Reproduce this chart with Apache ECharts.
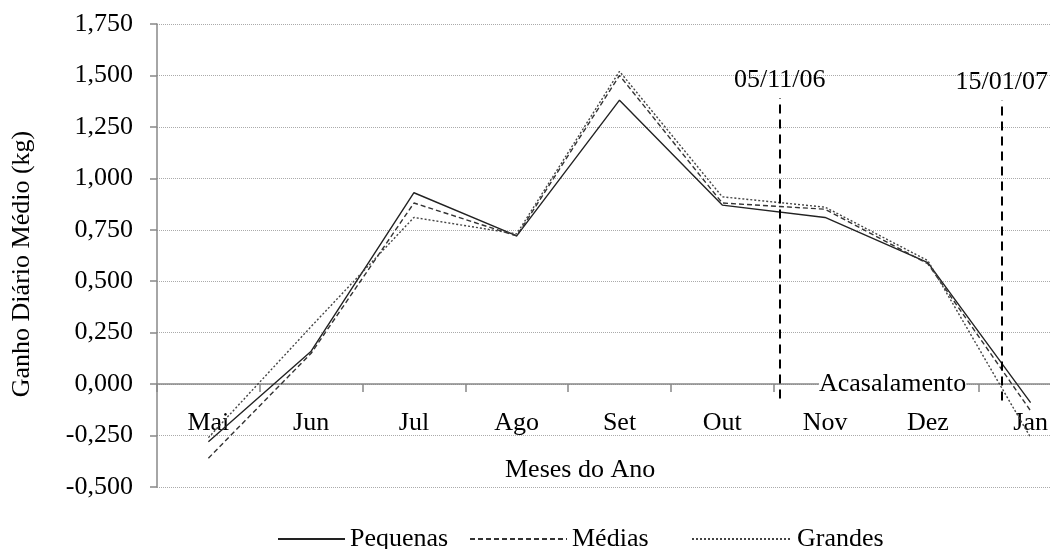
<!DOCTYPE html>
<html>
<head>
<meta charset="utf-8">
<script src="https://cdn.jsdelivr.net/npm/echarts@6/dist/echarts.min.js"></script>
<style>
  html, body { margin: 0; padding: 0; background: #fff; overflow: hidden; }
  /* o grafico original foi cortado a direita: a area util passa da janela */
  #chart { width: 1083px; height: 549px; }
</style>
</head>
<body>
<div id="chart"></div>
<script>
  var meses = ['Mai', 'Jun', 'Jul', 'Ago', 'Set', 'Out', 'Nov', 'Dez', 'Jan'];
  var pequenas = [-0.28, 0.16, 0.93, 0.72, 1.38, 0.87, 0.81, 0.59, -0.09];
  var medias = [-0.36, 0.15, 0.88, 0.72, 1.50, 0.88, 0.85, 0.585, -0.13];
  var grandes = [-0.26, 0.28, 0.81, 0.73, 1.52, 0.91, 0.86, 0.60, -0.26];
  // datas marcadas (posicao no eixo de meses, em unidades de categoria)
  var marcos = [
    { nome: '05/11/06', x: 6.06, de: -0.07, ate: 1.39 },
    { nome: '15/01/07', x: 8.22, de: -0.08, ate: 1.38 }
  ];

  var fonte = 'Liberation Serif';
  var chart = echarts.init(document.getElementById('chart'));

  function linha(nome, dados, tipo, cor) {
    return {
      name: nome,
      type: 'line',
      data: dados,
      symbol: 'none',
      lineStyle: { color: cor, width: 1.4, type: tipo },
      itemStyle: { color: cor },
      z: 3
    };
  }

  function legenda(nome, esq, larg) {
    return {
      data: [nome],
      top: 521,
      left: esq,
      itemWidth: larg,
      itemHeight: 2,
      itemGap: 0,
      itemStyle: { opacity: 0 },
      textStyle: { fontFamily: fonte, fontSize: 26, color: '#000' }
    };
  }

  var eixoCinza = { color: '#888', width: 1.5 };

  var option = {
    backgroundColor: '#fff',
    animation: false,
    textStyle: { fontFamily: fonte },
    grid: [
      { left: 157, right: 1, top: 24, bottom: 62 },
      // grade auxiliar so para desenhar o eixo dos meses na linha do zero
      { left: 157, right: 1, top: 24, bottom: 165 }
    ],
    legend: [
      legenda('Pequenas', 272, 67),
      legenda('Médias', 464, 97),
      legenda('Grandes', 686, 100)
    ],
    xAxis: [{
      type: 'category',
      gridIndex: 0,
      data: meses,
      show: false
    }, {
      type: 'value',
      gridIndex: 0,
      min: 0,
      max: 9,
      show: false
    }, {
      type: 'category',
      gridIndex: 1,
      data: meses,
      axisLine: { lineStyle: eixoCinza },
      axisTick: { show: true, length: 8, lineStyle: eixoCinza },
      axisLabel: { fontFamily: fonte, fontSize: 26, color: '#000', margin: 26 },
      splitLine: { show: false }
    }],
    yAxis: [{
      type: 'value',
      gridIndex: 0,
      min: -0.5,
      max: 1.75,
      interval: 0.25,
      axisLine: { show: true, lineStyle: eixoCinza },
      axisTick: { show: true, length: 7, lineStyle: eixoCinza },
      axisLabel: {
        fontFamily: fonte, fontSize: 26, color: '#000', margin: 24,
        formatter: function(v) { return v.toFixed(3).replace('.', ','); }
      },
      splitLine: { lineStyle: { color: '#aaa', type: [1, 1], width: 1 } }
    }, {
      type: 'value',
      gridIndex: 1,
      show: false
    }],
    graphic: [{
      type: 'text',
      x: 22, y: 264,
      rotation: Math.PI / 2,
      style: {
        text: 'Ganho Diário Médio (kg)', fontFamily: fonte, fontSize: 26, fill: '#000',
        align: 'center', verticalAlign: 'middle'
      }
    }, {
      type: 'text',
      left: 505, top: 457,
      style: { text: 'Meses do Ano', fontFamily: fonte, fontSize: 26, fill: '#000' }
    }, {
      type: 'text',
      left: 819, top: 371,
      z: 10,
      style: { text: 'Acasalamento', fontFamily: fonte, fontSize: 26, fill: '#000', backgroundColor: '#fff' }
    }],
    series: [
      linha('Pequenas', pequenas, 'solid', '#222'),
      linha('Médias', medias, [5, 3], '#333'),
      linha('Grandes', grandes, [2, 2], '#444'),
      {
        type: 'line',
        xAxisIndex: 1,
        yAxisIndex: 0,
        data: [],
        markLine: {
          silent: true,
          symbol: 'none',
          lineStyle: { color: '#000', type: [9, 6], width: 2 },
          label: {
            position: 'end', distance: 5,
            fontFamily: fonte, fontSize: 26, color: '#000',
            formatter: '{b}'
          },
          data: marcos.map(function(m) {
            return [{ name: m.nome, coord: [m.x, m.de] }, { coord: [m.x, m.ate] }];
          })
        }
      }
    ]
  };

  chart.setOption(option);
</script>
</body>
</html>
